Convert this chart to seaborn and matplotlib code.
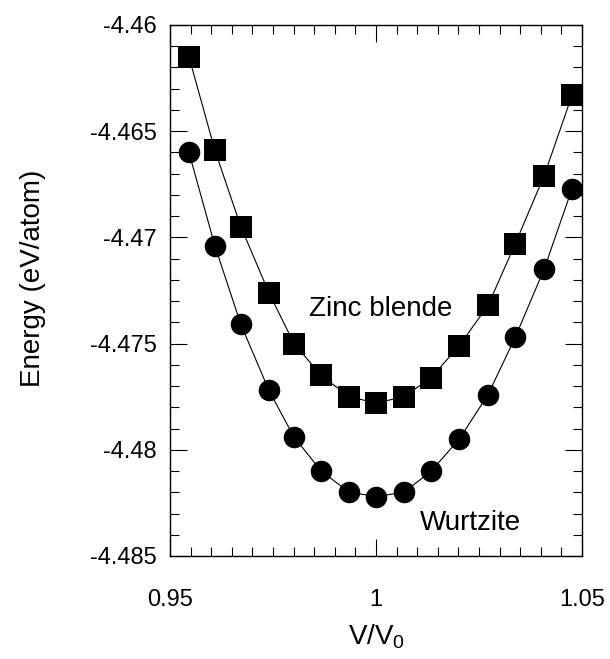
import matplotlib
matplotlib.use("Agg")
import matplotlib.pyplot as plt
from matplotlib.ticker import MultipleLocator
import pandas as pd
import seaborn as sns

# --- Data ---
vol_ratio = [0.9546, 0.9609, 0.9672, 0.9740, 0.9801, 0.9867, 0.9935, 1.0000,
             1.0068, 1.0134, 1.0202, 1.0272, 1.0338, 1.0408, 1.0476]
e_zincblende = [-4.4615, -4.4659, -4.4695, -4.4726, -4.4750, -4.4765, -4.4775, -4.4778,
                -4.4775, -4.4766, -4.4751, -4.4732, -4.4703, -4.4671, -4.4633]
e_wurtzite = [-4.4660, -4.4704, -4.4741, -4.4772, -4.4794, -4.4810, -4.4820, -4.4822,
              -4.4820, -4.4810, -4.4795, -4.4774, -4.4747, -4.4715, -4.4677]
phases = ["Zinc blende", "Wurtzite"]

x_ticks = [0.95, 1.0, 1.05]
x_ticklabels = ["0.95", "1", "1.05"]
y_ticks = [-4.485, -4.48, -4.475, -4.47, -4.465, -4.46]
y_ticklabels = ["-4.485", "-4.48", "-4.475", "-4.47", "-4.465", "-4.46"]

df = pd.DataFrame({
    "V": vol_ratio + vol_ratio,
    "E": e_zincblende + e_wurtzite,
    "phase": [phases[0]] * len(vol_ratio) + [phases[1]] * len(vol_ratio),
})

sns.set_style("ticks")
plt.rcParams["font.family"] = ["Liberation Sans", "DejaVu Sans"]
plt.rcParams["mathtext.default"] = "regular"
plt.rcParams["axes.unicode_minus"] = False
for key in ["text.color", "axes.labelcolor", "xtick.color", "ytick.color",
            "xtick.labelcolor", "ytick.labelcolor"]:
    plt.rcParams[key] = "black"

fig = plt.figure(figsize=(6.1, 6.59), dpi=100)
ax = fig.add_axes([0.2787, 0.1563, 0.6754, 0.8058])

sns.lineplot(data=df, x="V", y="E", style="phase",
             markers={"Zinc blende": "s", "Wurtzite": "o"}, dashes=False,
             color="black", lw=0.8, markersize=15.5,
             markeredgecolor="black", markeredgewidth=0,
             errorbar=None, legend=False, ax=ax)

ax.set_xlim(0.95, 1.05)
ax.set_ylim(-4.485, -4.46)
ax.set_xticks(x_ticks)
ax.set_xticklabels(x_ticklabels)
ax.set_yticks(y_ticks)
ax.set_yticklabels(y_ticklabels)
ax.xaxis.set_minor_locator(MultipleLocator(0.005))
ax.yaxis.set_minor_locator(MultipleLocator(0.001))

ax.tick_params(which="both", direction="in", top=True, right=True,
               width=0.8, color="black", labelsize=17)
ax.tick_params(which="major", length=12)
ax.tick_params(which="minor", length=6.5)
ax.tick_params(axis="x", which="major", pad=24)
ax.tick_params(axis="y", which="major", pad=9.5)
for s in ax.spines.values():
    s.set_linewidth(1.0)
    s.set_color("black")

ax.set_xlabel("V/V$_0$", fontsize=20)
ax.set_ylabel("Energy (eV/atom)", fontsize=20)
ax.xaxis.set_label_coords(0.502, -0.125)
ax.yaxis.set_label_coords(-0.30, 0.522)

ax.text(1.0012, -4.47337, "Zinc blende", fontsize=20, ha="center", va="center")
ax.text(1.0228, -4.48345, "Wurtzite", fontsize=20, ha="center", va="center")

fig.savefig("out.png", dpi=100)
